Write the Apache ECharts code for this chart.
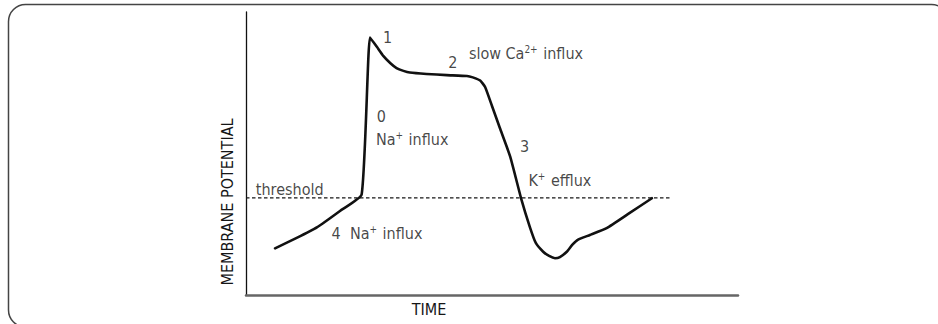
<!DOCTYPE html>
<html>
<head>
<meta charset="utf-8">
<script src="https://cdn.jsdelivr.net/npm/echarts@6/dist/echarts.min.js"></script>
<style>
  html, body { margin: 0; padding: 0; background: #fff; }
  #chart { width: 938px; height: 324px; }
</style>
</head>
<body>
<div id="chart"></div>
<script>
// Cardiac action potential, time (arbitrary units) vs membrane potential (arbitrary units)
const timePoints = [5.9, 10.2, 14.4, 19.1, 23.5, 25.2, 26.6, 27.9, 29.3, 30.6, 32.0, 33.3, 36.7, 40.8, 44.9, 46.1, 47.6, 48.6, 50.0, 51.6, 53.7, 56.0, 57.7, 58.9, 60.4, 61.6, 62.8, 63.8, 65.2, 66.3, 67.5, 69.9, 73.3, 78.0, 82.5];
const potentialValues = [16.5, 20.1, 23.9, 29.7, 35.5, 91.0, 87.7, 84.5, 82.0, 80.2, 79.2, 78.6, 78.1, 77.7, 77.4, 76.9, 75.8, 73.5, 66.8, 59.0, 48.9, 33.6, 24.0, 18.4, 15.3, 13.8, 13.0, 13.4, 15.3, 17.7, 19.6, 21.2, 23.6, 29.0, 34.2];

// Threshold potential and the time span of its dashed guide
const thresholdLevel = 34.3;
const thresholdSpan = [0, 86.2];

// Phase annotations: text and anchor (left edge, vertical middle) in data units
const phaseTexts = ['1', '2', 'slow Ca{sup|2+} influx', '0', 'Na{sup|+} influx', 'threshold', '4  Na{sup|+} influx', '3', 'K{sup|+} efflux'];
const phaseTimes = [27.85, 41.1, 45.3, 26.6, 26.4, 2.0, 17.4, 55.7, 57.4];
const phasePotentials = [91.0, 82.3, 85.2, 63.0, 54.8, 37.3, 21.6, 52.4, 40.6];

const axisTitles = { x: 'TIME', y: 'MEMBRANE POTENTIAL' };

const FONT = "'DejaVu Sans Condensed', 'Liberation Sans Narrow', 'Liberation Sans', sans-serif";
const INK = '#161616';

const chart = echarts.init(document.getElementById('chart'), null, { renderer: 'svg' });

const curve = timePoints.map((t, i) => [t, potentialValues[i]]);
const thresholdLine = thresholdSpan.map(t => [t, thresholdLevel]);
const annotations = phaseTexts.map((txt, i) => ({
  value: [phaseTimes[i], phasePotentials[i]],
  label: { formatter: '{base|' + txt.replace(/\{sup\|([^}]*)\}/g, '}{sup|$1}{base|') + '}' }
}));

const hiddenAxisParts = {
  axisTick: { show: false },
  axisLabel: { show: false },
  splitLine: { show: false }
};

chart.setOption({
  animation: false,
  backgroundColor: '#fff',
  grid: { left: 246, top: 12, right: 200, bottom: 29 },
  xAxis: Object.assign({
    type: 'value', min: 0, max: 100,
    axisLine: { show: true, onZero: false, lineStyle: { color: '#666', width: 2.5 } }
  }, hiddenAxisParts),
  yAxis: Object.assign({
    type: 'value', min: 0, max: 100,
    axisLine: { show: true, onZero: false, lineStyle: { color: '#111', width: 1.3 } }
  }, hiddenAxisParts),
  graphic: [
    {
      type: 'rect', silent: true,
      shape: { x: 8.5, y: 4.5, width: 940, height: 322.5, r: 17 },
      style: { fill: 'none', stroke: '#444', lineWidth: 1.5 }
    },
    {
      type: 'text', silent: true,
      x: 227, y: 202, rotation: Math.PI / 2,
      style: {
        text: axisTitles.y, fill: INK, font: '16px ' + FONT,
        align: 'center', verticalAlign: 'middle'
      }
    },
    {
      type: 'text', silent: true,
      x: 429, y: 309,
      style: {
        text: axisTitles.x, fill: INK, font: '16px ' + FONT,
        align: 'center', verticalAlign: 'middle'
      }
    }
  ],
  series: [
    {
      type: 'line',
      data: thresholdLine,
      symbol: 'none',
      silent: true,
      lineStyle: { color: INK, width: 1.2, type: [3.5, 2.5] }
    },
    {
      type: 'line',
      data: curve,
      symbol: 'none',
      smooth: 0.15,
      silent: true,
      lineStyle: { color: '#111', width: 2.6, cap: 'round', join: 'round' }
    },
    {
      type: 'scatter',
      data: annotations,
      symbolSize: 0,
      silent: true,
      label: {
        show: true,
        position: 'right',
        distance: 0,
        rich: {
          base: { fontFamily: FONT, fontSize: 16, color: INK, lineHeight: 18 },
          sup: { fontFamily: FONT, fontSize: 10, color: INK, lineHeight: 18, verticalAlign: 'top', padding: [0, 1, 0, 0] }
        }
      }
    }
  ]
});
</script>
</body>
</html>
